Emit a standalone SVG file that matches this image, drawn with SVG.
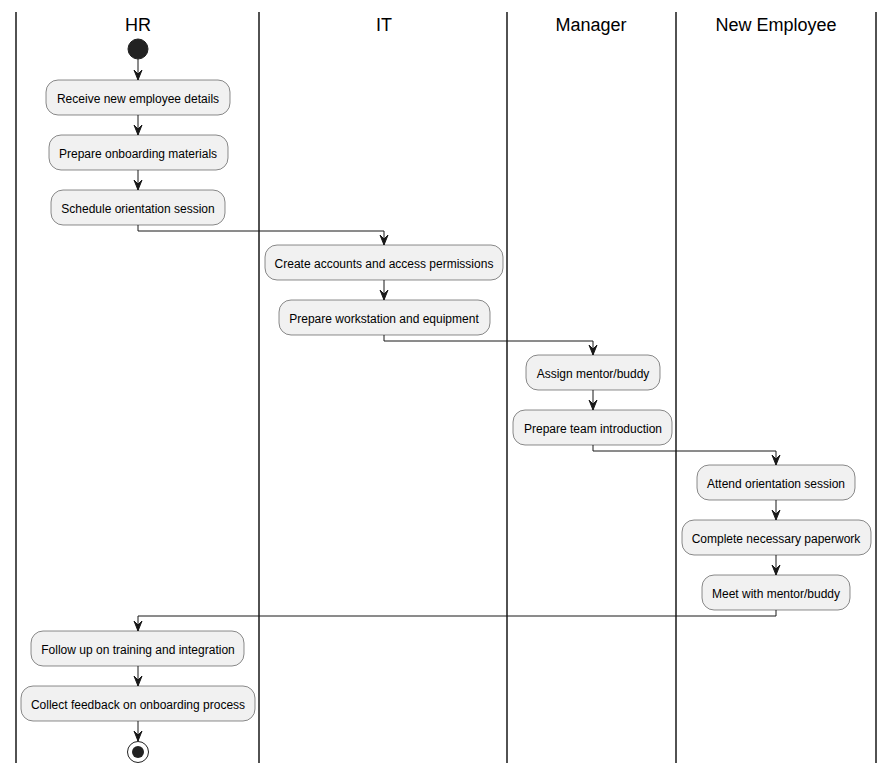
<svg xmlns="http://www.w3.org/2000/svg" width="893" height="774" viewBox="0 0 893 774">
  <style>
    .lane { stroke: #181818; stroke-width: 1.5; }
    .title { font-family: "Liberation Sans", Arial, sans-serif; font-size: 18px; fill: #000; text-anchor: middle; }
    .box { fill: #F1F1F1; stroke: #181818; stroke-width: 0.5; }
    .label { font-family: "Liberation Sans", Arial, sans-serif; font-size: 12px; fill: #000; text-anchor: middle; }
    .flow { fill: none; stroke: #181818; stroke-width: 1; }
    .head { fill: #181818; stroke: #181818; stroke-width: 1; }
  </style>
  <defs>
    <!-- Down-pointing arrowhead, tip at origin -->
    <polygon id="arrow" class="head" points="0,0 -4,-10 0,-6 4,-10"/>
  </defs>
  <rect width="893" height="774" fill="#FFFFFF"/>

  <!-- Swimlane separators -->
  <g id="lanes">
    <line class="lane" x1="16" y1="12" x2="16" y2="763"/>
    <line class="lane" x1="259" y1="12" x2="259" y2="763"/>
    <line class="lane" x1="507" y1="12" x2="507" y2="763"/>
    <line class="lane" x1="676" y1="12" x2="676" y2="763"/>
    <line class="lane" x1="876" y1="12" x2="876" y2="763"/>
    <text class="title" x="138" y="31">HR</text>
    <text class="title" x="384" y="31">IT</text>
    <text class="title" x="591" y="31">Manager</text>
    <text class="title" x="776" y="31">New Employee</text>
  </g>

  <!-- Connectors -->
  <g id="connectors">
    <path class="flow" d="M138,59 V80"/><use href="#arrow" x="138" y="80"/>
    <path class="flow" d="M138,115 V135"/><use href="#arrow" x="138" y="135"/>
    <path class="flow" d="M138,170 V190"/><use href="#arrow" x="138" y="190"/>
    <path class="flow" d="M138,225 V231 H384 V245"/><use href="#arrow" x="384" y="245"/>
    <path class="flow" d="M384,280 V300"/><use href="#arrow" x="384" y="300"/>
    <path class="flow" d="M384,335 V341 H593 V355"/><use href="#arrow" x="593" y="355"/>
    <path class="flow" d="M593,390 V410"/><use href="#arrow" x="593" y="410"/>
    <path class="flow" d="M593,445 V451 H776 V465"/><use href="#arrow" x="776" y="465"/>
    <path class="flow" d="M776,500 V520"/><use href="#arrow" x="776" y="520"/>
    <path class="flow" d="M776,555 V575"/><use href="#arrow" x="776" y="575"/>
    <path class="flow" d="M776,610 V616 H138 V631"/><use href="#arrow" x="138" y="631"/>
    <path class="flow" d="M138,666 V686"/><use href="#arrow" x="138" y="686"/>
    <path class="flow" d="M138,721 V741"/><use href="#arrow" x="138" y="741"/>
  </g>

  <!-- Nodes -->
  <g id="start"><circle cx="138" cy="49" r="10" fill="#222222" stroke="#222222"/></g>

  <g id="receive-details">
    <rect class="box" x="46" y="80" width="184" height="35" rx="12"/>
    <text class="label" x="138" y="103">Receive new employee details</text>
  </g>
  <g id="prepare-materials">
    <rect class="box" x="49" y="135" width="179" height="35" rx="12"/>
    <text class="label" x="138" y="158">Prepare onboarding materials</text>
  </g>
  <g id="schedule-orientation">
    <rect class="box" x="51" y="190" width="174" height="35" rx="12"/>
    <text class="label" x="138" y="213">Schedule orientation session</text>
  </g>

  <g id="create-accounts">
    <rect class="box" x="265" y="245" width="238" height="35" rx="12"/>
    <text class="label" x="384" y="268">Create accounts and access permissions</text>
  </g>
  <g id="prepare-workstation">
    <rect class="box" x="279" y="300" width="211" height="35" rx="12"/>
    <text class="label" x="384" y="323">Prepare workstation and equipment</text>
  </g>

  <g id="assign-mentor">
    <rect class="box" x="526" y="355" width="134" height="35" rx="12"/>
    <text class="label" x="593" y="378">Assign mentor/buddy</text>
  </g>
  <g id="prepare-team">
    <rect class="box" x="513" y="410" width="159" height="35" rx="12"/>
    <text class="label" x="593" y="433">Prepare team introduction</text>
  </g>

  <g id="attend-orientation">
    <rect class="box" x="697" y="465" width="158" height="35" rx="12"/>
    <text class="label" x="776" y="488">Attend orientation session</text>
  </g>
  <g id="complete-paperwork">
    <rect class="box" x="682" y="520" width="189" height="35" rx="12"/>
    <text class="label" x="776" y="543">Complete necessary paperwork</text>
  </g>
  <g id="meet-mentor">
    <rect class="box" x="702" y="575" width="148" height="35" rx="12"/>
    <text class="label" x="776" y="598">Meet with mentor/buddy</text>
  </g>

  <g id="follow-up">
    <rect class="box" x="31" y="631" width="213" height="35" rx="12"/>
    <text class="label" x="138" y="654">Follow up on training and integration</text>
  </g>
  <g id="collect-feedback">
    <rect class="box" x="21" y="686" width="234" height="35" rx="12"/>
    <text class="label" x="138" y="709">Collect feedback on onboarding process</text>
  </g>

  <g id="end">
    <circle cx="138" cy="752" r="10.5" fill="none" stroke="#222222" stroke-width="1"/>
    <circle cx="138" cy="752" r="6" fill="#222222"/>
  </g>
</svg>
